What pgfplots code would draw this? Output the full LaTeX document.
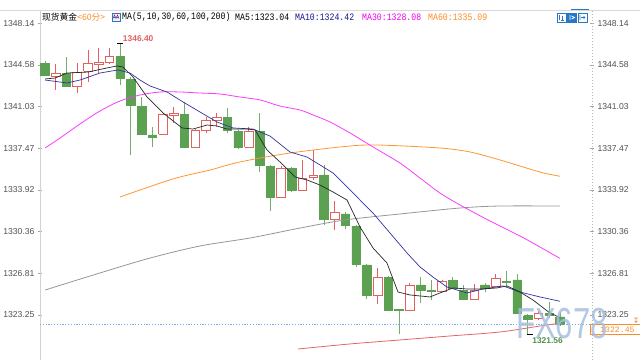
\documentclass[border=0pt]{standalone}
\usepackage{pgfplots}
\pgfplotsset{compat=1.18}
\usepackage{fontspec}
\setmainfont{Liberation Sans}
\newfontfamily\cjk{Noto Sans CJK SC}
\newfontfamily\mono{Liberation Mono}
\definecolor{cgreen}{RGB}{92,160,82}
\definecolor{cred}{RGB}{226,96,96}
\definecolor{ma5}{RGB}{40,40,40}
\definecolor{ma10}{RGB}{50,50,160}
\definecolor{ma30}{RGB}{250,60,250}
\definecolor{ma60}{RGB}{255,150,50}
\definecolor{ma100}{RGB}{150,150,150}
\definecolor{ma200}{RGB}{228,100,100}
\definecolor{labgray}{RGB}{80,80,80}
\definecolor{pline}{RGB}{120,170,235}
\definecolor{iconblue}{RGB}{40,120,200}
\definecolor{wm}{RGB}{165,190,222}
\definecolor{hnavy}{RGB}{20,20,140}
\definecolor{hmag}{RGB}{240,0,240}
\definecolor{horange}{RGB}{250,140,40}
\pgfplotsset{
  common/.style={
    at={(40pt,0pt)}, anchor=south west, scale only axis,
    width=552pt, height=350pt,
    xmin=-0.466, xmax=50.98, ymin=1319.41, ymax=1349.275,
    hide x axis,
    ytick={1323.25,1326.81,1330.36,1333.92,1337.47,1341.03,1344.58,1348.14},
    major tick length=4pt, tick align=center,
    tick style={draw=gray!70, line width=0.5pt},
    yticklabel style={font=\fontsize{8.6}{10}\selectfont, text=labgray},
    /pgf/number format/.cd, fixed, fixed zerofill, precision=2, 1000 sep={}, assume math mode=true,
  }
}
\begin{document}
\begin{tikzpicture}[x=1pt,y=1pt]
\path[use as bounding box] (0,0) rectangle (640,360);
\begin{axis}[common, axis y line*=left, y axis line style={-, draw=gray!35},
  clip mode=individual, unbounded coords=jump]
% wicks
\addplot[cgreen!85, line width=0.8pt] coordinates {
(0,1343.65)(0,1344.95)(0,nan)(2,1342.70)(2,1345.29)(2,nan)(7,1342.88)(7,1346.40)(7,nan)
(8,1336.90)(8,1343.58)(8,nan)(9,1338.65)(9,1341.85)(9,nan)(10,1337.61)(10,1339.32)(10,nan)
(13,1337.52)(13,1341.45)(13,nan)(17,1338.75)(17,1340.89)(17,nan)(18,1337.41)(18,1339.04)(18,nan)
(20,1335.48)(20,1340.46)(20,nan)(21,1332.12)(21,1336.05)(21,nan)(23,1333.77)(23,1335.90)(23,nan)
(26,1330.93)(26,1336.05)(26,nan)(28,1330.56)(28,1332.04)(28,nan)(29,1327.37)(29,1330.93)(29,nan)
(30,1324.59)(30,1327.60)(30,nan)(32,1323.59)(32,1326.58)(32,nan)(33,1321.62)(33,1323.76)(33,nan)
(35,1324.25)(35,1326.47)(35,nan)(36,1324.53)(36,1326.24)(36,nan)(38,1325.51)(38,1326.47)(38,nan)
(39,1324.60)(39,1325.81)(39,nan)(41,1325.24)(41,1325.96)(41,nan)(43,1325.67)(43,1327.03)(43,nan)
(44,1323.38)(44,1326.75)(44,nan)(45,1321.56)(45,1323.30)(45,nan)(47,1323.00)(47,1324.39)(47,nan)
(48,1322.35)(48,1323.51)};
\addplot[cred, line width=0.8pt] coordinates {
(1,1342.45)(1,1344.67)(1,nan)(3,1342.22)(3,1344.73)(3,nan)(4,1343.13)(4,1345.86)(4,nan)
(5,1343.92)(5,1346.01)(5,nan)(6,1344.64)(6,1346.01)(6,nan)(11,1338.66)(11,1340.46)(11,nan)
(12,1339.61)(12,1341.02)(12,nan)(14,1337.54)(14,1339.12)(14,nan)(15,1338.75)(15,1340.12)(15,nan)
(16,1339.32)(16,1340.46)(16,nan)(19,1337.54)(19,1339.32)(19,nan)(22,1333.23)(22,1335.99)(22,nan)
(24,1333.90)(24,1336.48)(24,nan)(25,1334.77)(25,1337.33)(25,nan)(27,1330.50)(27,1332.98)(27,nan)
(31,1324.19)(31,1327.24)(31,nan)(34,1323.55)(34,1325.98)(34,nan)(37,1325.21)(37,1326.24)(37,nan)
(40,1324.60)(40,1325.87)(40,nan)(42,1325.64)(42,1326.75)(42,nan)(46,1322.83)(46,1323.59)};
% green bodies
\addplot[draw=cgreen, fill=cgreen, line width=0.6pt] coordinates {
(-0.4,1344.73)(0.4,1344.73)(0.4,1343.67)(-0.4,1343.67)(-0.4,1344.73)(0,nan)
(1.6,1343.87)(2.4,1343.87)(2.4,1342.73)(1.6,1342.73)(1.6,1343.87)(2,nan)
(6.6,1345.29)(7.4,1345.29)(7.4,1343.45)(6.6,1343.45)(6.6,1345.29)(7,nan)
(7.6,1343.36)(8.4,1343.36)(8.4,1341.17)(7.6,1341.17)(7.6,1343.36)(8,nan)
(8.6,1341.02)(9.4,1341.02)(9.4,1338.67)(8.6,1338.67)(8.6,1341.02)(9,nan)
(9.6,1338.61)(10.4,1338.61)(10.4,1338.41)(9.6,1338.41)(9.6,1338.61)(10,nan)
(12.6,1340.38)(13.4,1340.38)(13.4,1337.56)(12.6,1337.56)(12.6,1340.38)(13,nan)
(16.6,1340.12)(17.4,1340.12)(17.4,1338.98)(16.6,1338.98)(16.6,1340.12)(17,nan)
(17.6,1338.89)(18.4,1338.89)(18.4,1337.56)(17.6,1337.56)(17.6,1338.89)(18,nan)
(19.6,1338.89)(20.4,1338.89)(20.4,1336.01)(19.6,1336.01)(19.6,1338.89)(20,nan)
(20.6,1335.96)(21.4,1335.96)(21.4,1333.26)(20.6,1333.26)(20.6,1335.96)(21,nan)
(22.6,1335.77)(23.4,1335.77)(23.4,1333.92)(22.6,1333.92)(22.6,1335.77)(23,nan)
(25.6,1335.20)(26.4,1335.20)(26.4,1331.44)(25.6,1331.44)(25.6,1335.20)(26,nan)
(27.6,1331.87)(28.4,1331.87)(28.4,1330.93)(27.6,1330.93)(27.6,1331.87)(28,nan)
(28.6,1330.84)(29.4,1330.84)(29.4,1327.60)(28.6,1327.60)(28.6,1330.84)(29,nan)
(29.6,1327.52)(30.4,1327.52)(30.4,1324.90)(29.6,1324.90)(29.6,1327.52)(30,nan)
(31.6,1326.47)(32.4,1326.47)(32.4,1323.62)(31.6,1323.62)(31.6,1326.47)(32,nan)
(32.6,1323.72)(33.4,1323.72)(33.4,1323.64)(32.6,1323.64)(32.6,1323.72)(33,nan)
(34.6,1325.81)(35.4,1325.81)(35.4,1325.32)(34.6,1325.32)(34.6,1325.81)(35,nan)
(35.6,1325.32)(36.4,1325.32)(36.4,1325.24)(35.6,1325.24)(35.6,1325.32)(36,nan)
(37.6,1326.18)(38.4,1326.18)(38.4,1325.53)(37.6,1325.53)(37.6,1326.18)(38,nan)
(38.6,1325.38)(39.4,1325.38)(39.4,1324.62)(38.6,1324.62)(38.6,1325.38)(39,nan)
(40.6,1325.81)(41.4,1325.81)(41.4,1325.53)(40.6,1325.53)(40.6,1325.81)(41,nan)
(42.6,1326.15)(43.4,1326.15)(43.4,1326.04)(42.6,1326.04)(42.6,1326.15)(43,nan)
(43.6,1326.24)(44.4,1326.24)(44.4,1323.40)(43.6,1323.40)(43.6,1326.24)(44,nan)
(44.6,1323.19)(45.4,1323.19)(45.4,1322.91)(44.6,1322.91)(44.6,1323.19)(45,nan)
(46.6,1323.42)(47.4,1323.42)(47.4,1323.25)(46.6,1323.25)(46.6,1323.42)(47,nan)
(47.6,1323.08)(48.4,1323.08)(48.4,1322.45)(47.6,1322.45)(47.6,1323.08)};
% red bodies
\addplot[draw=cred, fill=white, line width=0.8pt] coordinates {
(0.6,1343.64)(1.4,1343.64)(1.4,1343.87)(0.6,1343.87)(0.6,1343.64)(1,nan)
(2.6,1342.73)(3.4,1342.73)(3.4,1343.92)(2.6,1343.92)(2.6,1342.73)(3,nan)
(3.6,1344.04)(4.4,1344.04)(4.4,1344.73)(3.6,1344.73)(3.6,1344.04)(4,nan)
(4.6,1344.61)(5.4,1344.61)(5.4,1344.78)(4.6,1344.78)(4.6,1344.61)(5,nan)
(5.6,1344.78)(6.4,1344.78)(6.4,1345.35)(5.6,1345.35)(5.6,1344.78)(6,nan)
(10.6,1338.70)(11.4,1338.70)(11.4,1340.38)(10.6,1340.38)(10.6,1338.70)(11,nan)
(11.6,1340.32)(12.4,1340.32)(12.4,1340.46)(11.6,1340.46)(11.6,1340.32)(12,nan)
(13.6,1337.56)(14.4,1337.56)(14.4,1338.98)(13.6,1338.98)(13.6,1337.56)(14,nan)
(14.6,1338.98)(15.4,1338.98)(15.4,1339.83)(14.6,1339.83)(14.6,1338.98)(15,nan)
(15.6,1339.83)(16.4,1339.83)(16.4,1340.12)(15.6,1340.12)(15.6,1339.83)(16,nan)
(18.6,1337.56)(19.4,1337.56)(19.4,1338.89)(18.6,1338.89)(18.6,1337.56)(19,nan)
(21.6,1333.26)(22.4,1333.26)(22.4,1335.77)(21.6,1335.77)(21.6,1333.26)(22,nan)
(23.6,1333.92)(24.4,1333.92)(24.4,1334.91)(23.6,1334.91)(23.6,1333.92)(24,nan)
(24.6,1334.97)(25.4,1334.97)(25.4,1335.20)(24.6,1335.20)(24.6,1334.97)(25,nan)
(26.6,1331.44)(27.4,1331.44)(27.4,1332.01)(26.6,1332.01)(26.6,1331.44)(27,nan)
(30.6,1324.96)(31.4,1324.96)(31.4,1326.47)(30.6,1326.47)(30.6,1324.96)(31,nan)
(33.6,1323.62)(34.4,1323.62)(34.4,1325.81)(33.6,1325.81)(33.6,1323.62)(34,nan)
(36.6,1325.24)(37.4,1325.24)(37.4,1326.09)(36.6,1326.09)(36.6,1325.24)(37,nan)
(39.6,1324.62)(40.4,1324.62)(40.4,1325.38)(39.6,1325.38)(39.6,1324.62)(40,nan)
(41.6,1325.67)(42.4,1325.67)(42.4,1326.38)(41.6,1326.38)(41.6,1325.67)(42,nan)
(45.6,1323.00)(46.4,1323.00)(46.4,1323.42)(45.6,1323.42)(45.6,1323.00)};
% current price line
\addplot[pline, line width=1.1pt, dash pattern=on 1.2pt off 1.6pt] coordinates {(-0.466,1322.45)(50.98,1322.45)};
% moving averages
\addplot[ma200, line width=0.8pt, smooth] coordinates {(23.58,1320.35)(28.43,1320.78)(33.08,1321.12)(37.74,1321.46)(42.40,1321.80)(46.13,1322.31)(48,1322.55)};
\addplot[ma100, line width=0.8pt, smooth] coordinates {(0,1325.38)(5.13,1326.84)(9.79,1328.11)(14.45,1329.14)(19.11,1329.82)(23.77,1330.67)(27.96,1331.36)(33.08,1331.87)(38.68,1332.38)(42.40,1332.55)(48,1332.55)};
\addplot[ma60, line width=0.8pt, smooth] coordinates {(6.99,1333.32)(11.93,1334.86)(15.38,1335.62)(18.17,1336.31)(22.83,1337.07)(28.43,1337.67)(31.22,1337.75)(36.81,1337.50)(39.61,1337.16)(42.40,1336.48)(46.13,1335.45)(48,1335.09)};
\addplot[ma30, line width=0.8pt, smooth] coordinates {(0,1337.50)(1.40,1338.35)(3.26,1339.55)(5.13,1340.66)(6.99,1341.51)(8.85,1342.02)(10.72,1342.28)(12.58,1342.28)(14.45,1342.19)(16.31,1342.11)(18.17,1341.85)(20.04,1341.60)(21.90,1341.08)(23.77,1340.74)(24.98,1340.32)(26.56,1339.72)(28.43,1338.78)(30.57,1337.59)(33.08,1336.22)(34.95,1334.94)(36.81,1333.66)(38.68,1332.64)(41.29,1331.36)(44.27,1329.99)(46.13,1329.05)(48,1328.08)};
\addplot[ma10, line width=0.7pt] coordinates {(0,1343.30)(2.05,1343.05)(3.26,1343.30)(5.13,1343.90)(6.80,1344.16)(7.92,1343.90)(8.85,1343.30)(9.79,1342.79)(11.37,1342.28)(12.86,1341.43)(14.45,1340.57)(16.03,1339.72)(17.52,1339.21)(19.38,1339.12)(20.97,1338.52)(22.83,1337.16)(24.42,1336.73)(25.63,1336.05)(26.84,1335.37)(28.43,1333.92)(29.36,1333.06)(30.57,1331.95)(32.15,1330.25)(33.74,1328.54)(34.95,1327.35)(36.16,1326.49)(37.46,1325.64)(39.33,1325.13)(40.82,1325.47)(42.68,1325.73)(44.27,1325.21)(46.13,1324.79)(48,1324.42)};
\addplot[ma5, line width=0.7pt] coordinates {(0,1343.39)(0.93,1343.47)(2.05,1343.90)(4.01,1343.98)(5.31,1344.24)(6.71,1344.50)(7.27,1344.41)(8.20,1343.56)(9.51,1341.85)(11.0,1340.49)(12.77,1339.21)(13.79,1339.12)(15.1,1339.46)(16.03,1339.38)(16.96,1339.12)(18.83,1339.12)(19.57,1339.04)(20.69,1337.33)(21.90,1336.31)(23.3,1335.03)(24.42,1334.77)(25.63,1334.34)(26.84,1333.75)(28.15,1333.06)(29.36,1330.76)(30.57,1328.97)(31.87,1327.69)(32.9,1325.21)(34.02,1324.96)(35.88,1324.79)(36.81,1325.13)(38.03,1325.56)(39.33,1325.47)(40.82,1325.47)(42.12,1325.56)(43.06,1325.73)(44.27,1325.21)(45.48,1324.53)(47.06,1323.42)(48,1323.04)};
% high / low markers
\addplot[black, line width=0.7pt] coordinates {(6.75,1346.40)(7.25,1346.40)};
\addplot[black, line width=0.7pt] coordinates {(44.95,1321.56)(45.45,1321.56)};
\node[anchor=west, text=cred, font=\bfseries\fontsize{8.4}{10}\selectfont, inner sep=0pt] at (axis cs:7.25,1346.84) {1346.40};
\node[anchor=west, text=cgreen!90!black, font=\bfseries\fontsize{8.4}{10}\selectfont, inner sep=0pt] at (axis cs:45.4,1321.05) {1321.56};
\end{axis}
\begin{axis}[common, axis y line*=right, y axis line style={-, draw=gray!55, dash pattern=on 1pt off 2pt}]
\addplot[draw=none] coordinates {(0,1330)};
\end{axis}
% frame top line
\draw[gray!30, line width=0.6pt] (0,350) -- (640,350);
\draw[iconblue, line width=1.2pt] (571,350.3) -- (589,350.3);
% header
\node[anchor=west, inner sep=0pt, font=\cjk\fontsize{8.7}{10}\selectfont] at (42,343) {现货黄金};
\node[anchor=west, inner sep=0pt, text=horange, font=\cjk\fontsize{8.7}{10}\selectfont] at (77,343) {<60分>};
\draw[iconblue, fill=blue!6, line width=0.5pt] (112,339) rectangle (120,347);
\draw[red, line width=0.5pt] (113,341.5) -- (114.5,345) -- (116,341.5) -- (117.5,345) -- (119,341.5);
\draw[iconblue, line width=0.5pt] (113,343) -- (119,343);
\node[anchor=west, inner sep=0pt, font=\mono\fontsize{8.2}{10}\selectfont] at (122,343) {\scalebox{1}[1.2]{MA(5,10,30,60,100,200)}};
\node[anchor=west, inner sep=0pt, font=\mono\fontsize{8.2}{10}\selectfont] at (235,343) {\scalebox{1}[1.2]{MA5:1323.04}};
\node[anchor=west, inner sep=0pt, text=hnavy, font=\mono\fontsize{8.2}{10}\selectfont] at (295,343) {\scalebox{1}[1.2]{MA10:1324.42}};
\node[anchor=west, inner sep=0pt, text=hmag, font=\mono\fontsize{8.2}{10}\selectfont] at (362,343) {\scalebox{1}[1.2]{MA30:1328.08}};
\node[anchor=west, inner sep=0pt, text=horange, font=\mono\fontsize{8.2}{10}\selectfont] at (428,343) {\scalebox{1}[1.2]{MA60:1335.09}};
% top-right icons
\draw[iconblue, fill=white, line width=0.6pt] (557,338) rectangle (566,347);
\draw[iconblue, line width=0.6pt] (559.5,340) -- (559.5,345) (561,340) -- (564,340) (562.5,340) -- (562.5,344);
\draw[iconblue, fill=iconblue, line width=0.6pt] (567.5,338) rectangle (576.5,347);
\draw[white, line width=0.7pt] (570,340) -- (570,345) (571.5,341) -- (574.5,342.5) -- (571.5,344);
\draw[iconblue, fill=white, line width=0.6pt] (578,338) rectangle (587,347);
\draw[iconblue, line width=0.6pt] (580,340) -- (580,345) (581,342.5) -- (585,342.5) (583.5,344) -- (585,342.5) -- (583.5,341);
% price box
\draw[horange, line width=0.6pt, fill=white] (590,26) rectangle (640,35.5);
\node[anchor=west, inner sep=0pt, text=horange, font=\mono\fontsize{8.2}{10}\selectfont] at (600,30.7) {1322.45};
\draw[horange, line width=0.6pt] (634,42) -- (638,42) (636,42) -- (636,37.5) (634.5,39) -- (636,37.5) -- (637.5,39);
% watermark
\node[text=wm, opacity=0.85, inner sep=0pt, font=\fontsize{31}{31}\selectfont] at (562,36) {\scalebox{1}[1.4]{FX678}};
\end{tikzpicture}
\end{document}
